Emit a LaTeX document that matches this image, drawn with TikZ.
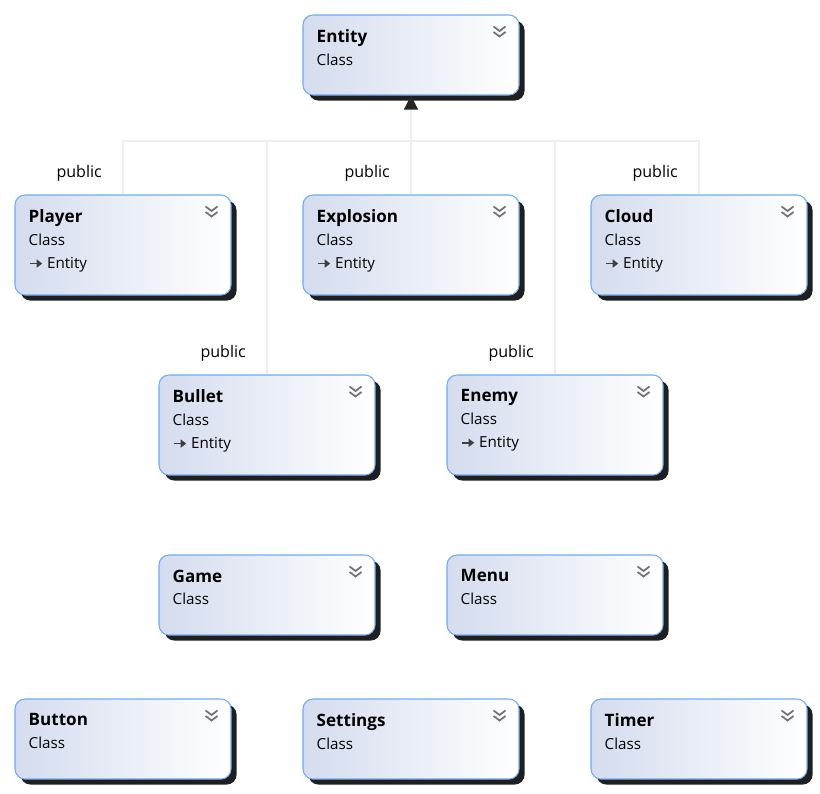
\documentclass[tikz,border=0pt]{standalone}
\usepackage{fontspec}
\setmainfont{Open Sans}
\usetikzlibrary{arrows.meta,
		calc,
		shadows}

\definecolor{boxleft}{RGB}{212,220,238}
\definecolor{boxline}{RGB}{112,172,240}
\definecolor{busline}{RGB}{238,238,238}

% small inheritance arrow in front of the base class name
\newcommand{\inharrow}{\tikz[baseline=-0.55ex]\draw[black!75, line width=1.3pt, -{Triangle[length=4.2pt, width=6pt]}] (0,0) -- (9.5pt,0);}

\tikzset{
	classbox/.style = {draw=boxline, line width=0.8pt, rounded corners=7.5pt,
		left color=boxleft, right color=white, minimum width=162pt,
		drop shadow={shadow xshift=4.2pt, shadow yshift=-4.2pt, fill=black!88, opacity=1}},
	classtext/.style = {anchor=north west, inner sep=0pt, align=left,
		font=\fontsize{11.4}{17}\selectfont},
	lbl/.style = {anchor=east, inner sep=0pt, font=\fontsize{12}{14}\selectfont},
	bus/.style = {draw=busline, line width=1pt}
}

% name, x, y (centre), height, text
\newcommand{\classnode}[5]{%
	\node[classbox, minimum height=#4*0.75pt] (#1) at (#2,#3) {};
	\node[classtext] (#1-text) at ([shift={(14,15)}]#1.north west) {#5};
	\draw[black!55, line width=1.3pt] ([shift={(-26,12)}]#1.north east) -- ++(6,4.5) -- ++(6,-4.5)
		([shift={(-26,17.5)}]#1.north east) -- ++(6,4.5) -- ++(6,-4.5);
}

\begin{document}
\begin{tikzpicture}[x=0.75pt, y=-0.75pt]

\useasboundingbox (0,0) rectangle (820,793);

% boxes
\classnode{entity}{411}{55}{80}{{\fontsize{12.8}{17}\selectfont\bfseries Entity}\\Class}
\classnode{player}{123}{245}{100}{{\fontsize{12.8}{17}\selectfont\bfseries Player}\\Class\\\inharrow\ Entity}
\classnode{explosion}{411}{245}{100}{{\fontsize{12.8}{17}\selectfont\bfseries Explosion}\\Class\\\inharrow\ Entity}
\classnode{cloud}{699}{245}{100}{{\fontsize{12.8}{17}\selectfont\bfseries Cloud}\\Class\\\inharrow\ Entity}
\classnode{bullet}{267}{425}{100}{{\fontsize{12.8}{17}\selectfont\bfseries Bullet}\\Class\\\inharrow\ Entity}
\classnode{enemy}{555}{425}{100}{{\fontsize{12.8}{17}\selectfont\bfseries Enemy}\\Class\\\inharrow\ Entity}
\classnode{game}{267}{595}{80}{{\fontsize{12.8}{17}\selectfont\bfseries Game}\\Class}
\classnode{menu}{555}{595}{80}{{\fontsize{12.8}{17}\selectfont\bfseries Menu}\\Class}
\classnode{button}{123}{739}{80}{{\fontsize{12.8}{17}\selectfont\bfseries Button}\\Class}
\classnode{settings}{411}{739}{80}{{\fontsize{12.8}{17}\selectfont\bfseries Settings}\\Class}
\classnode{timer}{699}{739}{80}{{\fontsize{12.8}{17}\selectfont\bfseries Timer}\\Class}

% inheritance lines
\coordinate (junction) at (411,141);
\foreach \sub in {player, explosion, cloud, bullet, enemy} {
	\draw[bus] (\sub.north) |- (junction);
	\node[lbl] (\sub-pub) at ([shift={(-21,-21)}]\sub.north) {public};
}
\draw[bus, -{Triangle[length=10.5pt, width=10.5pt, color=black!85]}] (junction) -- (entity.south);

\end{tikzpicture}
\end{document}
